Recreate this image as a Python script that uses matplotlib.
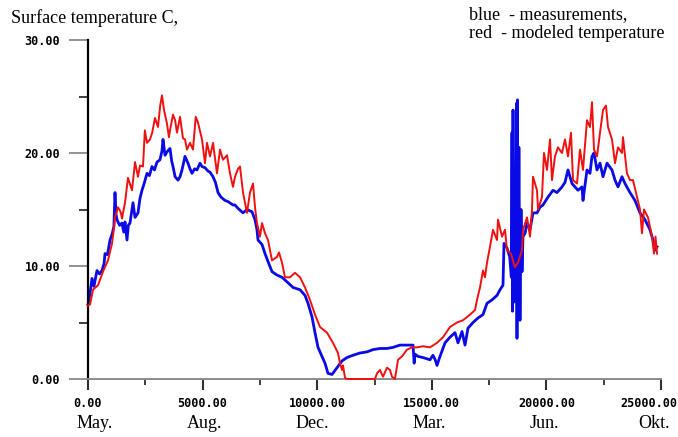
import numpy as np
import matplotlib
matplotlib.use("Agg")
import matplotlib.pyplot as plt
from matplotlib.transforms import blended_transform_factory, ScaledTranslation

blue_hours = [0, 90, 175, 260, 393, 500, 611, 700, 742, 850, 960, 1050, 1130, 1178, 1220,
              1265, 1380, 1483, 1560, 1614, 1702, 1760, 1832, 1963, 2051, 2182, 2269, 2356,
              2450, 2574, 2680, 2792, 2900, 3010, 3141, 3229, 3272, 3360, 3447, 3578, 3650,
              3709, 3800, 3927, 4014, 4101, 4232, 4363, 4450, 4538, 4650, 4756, 4887, 4974,
              5105, 5236, 5323, 5454, 5560, 5672, 5800, 5977, 6108, 6326, 6414, 6545, 6763,
              6937, 7155, 7286, 7373, 7417, 7592, 7723, 7853, 8028, 8246, 8464, 8682, 8944,
              9250, 9468, 9599, 9773, 9904, 10035, 10209, 10340, 10471, 10646, 10864, 11082,
              11300, 11562, 11867, 12173, 12435, 12740, 13045, 13307, 13613, 13918, 14180,
              14230, 14267, 14398, 14616, 14921, 15052, 15150, 15227, 15358, 15576, 15794,
              16012, 16143, 16318, 16449, 16579, 16798, 17016, 17234, 17409, 17627, 17845,
              17976, 18106, 18150, 18281, 18400, 18470, 18499, 18520, 18543, 18580, 18620,
              18660, 18700, 18717, 18740, 18761, 18800, 18848, 18892, 18936, 18979, 19070,
              19154, 19285, 19415, 19590, 19721, 19852, 20070, 20288, 20462, 20680, 20811,
              20942, 21117, 21248, 21379, 21553, 21597, 21771, 21902, 21990, 22077, 22208,
              22339, 22469, 22644, 22862, 22993, 23124, 23298, 23429, 23647, 23865, 24084,
              24302, 24520, 24651, 24738, 24826]
blue_temp = [6.6, 7.6, 8.9, 8.2, 9.6, 9.3, 9.6, 10.2, 11.1, 11.0, 12.3, 12.8, 13.5, 16.5, 14.6,
             14.1, 13.6, 13.8, 13.0, 13.9, 12.3, 13.6, 13.8, 15.6, 14.3, 14.7, 16.0, 16.7,
             17.3, 18.2, 18.0, 18.8, 18.5, 19.2, 19.4, 20.2, 21.2, 19.8, 20.1, 20.4, 19.3,
             18.8, 17.9, 17.6, 17.9, 18.5, 19.7, 19.1, 18.6, 18.2, 18.6, 18.5, 19.1, 18.8,
             18.7, 18.4, 18.3, 17.9, 17.4, 16.5, 16.1, 15.8, 15.7, 15.4, 15.4, 15.1, 14.7,
             15.0, 14.8, 14.1, 13.2, 12.3, 11.9, 11.1, 10.4, 9.5, 9.2, 9.0, 8.6, 8.1,
             7.9, 7.4, 6.7, 5.5, 4.1, 2.8, 2.0, 1.4, 0.5, 0.4, 1.0, 1.6,
             1.9, 2.1, 2.3, 2.4, 2.6, 2.7, 2.7, 2.8, 3.0, 3.0, 3.0,
             1.4, 2.2, 2.0, 1.9, 1.7, 2.1, 1.7, 1.2, 2.0, 3.2, 3.7,
             4.1, 3.2, 4.2, 3.0, 4.5, 5.0, 5.4, 5.7, 6.7, 7.0, 7.4,
             7.9, 8.3, 12.0, 11.6, 10.8, 9.0, 21.8, 6.0, 23.8, 6.8, 18.0,
             7.5, 24.4, 3.6, 24.7, 6.5, 20.5, 5.2, 15.0, 9.5, 12.6, 12.9,
             13.8, 13.2, 14.7, 14.7, 15.2, 15.4, 16.1, 16.7, 16.5, 17.0, 17.4,
             18.5, 17.3, 17.0, 16.7, 17.0, 15.8, 18.5, 18.2, 19.7, 20.0, 18.5,
             19.1, 17.9, 19.1, 18.5, 17.6, 17.0, 17.9, 17.3, 16.5, 15.8, 14.7,
             14.1, 13.2, 12.3, 11.4, 11.7]

# modeled surface temperature (red)
red_hours = [0, 90, 218, 436, 654, 873, 1047, 1100, 1178, 1309, 1420, 1483, 1614, 1745, 1920,
             2051, 2182, 2269, 2400, 2480, 2574, 2705, 2800, 2923, 3054, 3150, 3229, 3316,
             3447, 3530, 3578, 3709, 3800, 3883, 4014, 4145, 4232, 4319, 4450, 4581, 4700,
             4799, 4974, 5017, 5105, 5192, 5323, 5454, 5628, 5759, 5890, 6065, 6195, 6326,
             6414, 6545, 6632, 6763, 6937, 7068, 7199, 7286, 7373, 7504, 7592, 7723, 7853,
             8028, 8246, 8333, 8464, 8595, 8813, 9031, 9250, 9468, 9686, 9904, 10122, 10428,
             10689, 10908, 10995, 11082, 11126, 11213, 11300, 12522, 12609, 12740, 12871,
             13045, 13176, 13264, 13394, 13526, 13700, 13918, 14136, 14354, 14616, 14921,
             15227, 15489, 15794, 16099, 16361, 16667, 16885, 16972, 17103, 17234, 17321,
             17409, 17539, 17670, 17845, 17888, 18063, 18194, 18281, 18450, 18630, 18761,
             18936, 18979, 19154, 19285, 19372, 19415, 19590, 19634, 19808, 19895, 20026,
             20157, 20244, 20375, 20506, 20680, 20811, 20942, 21073, 21161, 21335, 21466,
             21597, 21771, 21902, 21990, 22077, 22208, 22339, 22469, 22600, 22688, 22862,
             22993, 23124, 23298, 23342, 23516, 23647, 23778, 23953, 24084, 24171, 24258,
             24433, 24607, 24695, 24760, 24826]
red_temp = [6.5, 6.6, 7.9, 8.3, 9.5, 10.5, 12.0, 12.8, 14.3, 15.2, 14.8, 14.2, 15.6, 17.8, 16.7,
            19.2, 17.9, 18.9, 18.8, 22.0, 20.9, 21.2, 21.8, 23.1, 22.3, 24.2, 25.1, 23.8,
            22.6, 21.4, 22.0, 23.4, 22.9, 21.8, 23.2, 21.3, 21.2, 20.3, 20.9, 20.3, 23.2,
            22.7, 21.2, 20.5, 19.1, 20.9, 19.7, 20.9, 18.2, 20.3, 19.4, 19.8, 18.2, 17.0,
            17.9, 18.6, 18.8, 16.5, 14.7, 16.5, 17.3, 15.2, 13.8, 12.6, 13.8, 12.9, 12.3,
            10.5, 10.8, 11.2, 10.3, 9.0, 9.0, 9.4, 9.0, 8.1, 7.0, 5.7, 4.6, 4.1,
            3.2, 2.3, 1.4, 0.8, 1.2, 0.1, 0.0, 0.0, 0.5, 0.8, 0.2,
            1.0, 0.8, 0.2, 0.0, 1.7, 2.0, 2.6, 2.8, 2.8, 2.9, 2.8,
            3.2, 3.7, 4.6, 5.0, 5.2, 5.7, 6.1, 7.0, 8.1, 9.6, 9.0,
            10.3, 11.7, 13.2, 12.3, 14.1, 12.6, 13.2, 11.4, 11.1, 9.9, 10.3,
            11.4, 13.2, 14.3, 12.6, 15.0, 17.9, 16.7, 15.0, 16.1, 20.0, 18.5,
            21.2, 17.6, 19.7, 20.5, 20.0, 21.2, 19.7, 21.8, 17.6, 17.3, 20.3,
            18.5, 22.9, 22.3, 24.5, 20.3, 19.7, 21.8, 23.8, 24.2, 22.3, 21.2,
            19.1, 20.5, 20.0, 21.4, 18.2, 17.6, 17.6, 16.1, 15.0, 12.9, 15.0,
            14.3, 12.6, 11.1, 12.6, 11.1]

x_ticks = [0, 5000, 10000, 15000, 20000, 25000]
x_tick_labels = ["0.00", "5000.00", "10000.00", "15000.00", "20000.00", "25000.00"]
y_ticks = [0, 10, 20, 30]
y_tick_labels = ["0.00", "10.00", "20.00", "30.00"]
months = ["May.", "Aug.", "Dec.", "Mar.", "Jun.", "Okt."]
month_pos = [300, 5100, 9800, 14900, 19900, 24700]

SERIF = "Liberation Serif"
TICKFONT = dict(family="DejaVu Sans Mono", weight="bold", size=8.5)

fig = plt.figure(figsize=(6.78, 4.37), dpi=100)
ax = fig.add_axes([88 / 678, 58 / 437, 573 / 678, 339 / 437])

ax.plot(red_hours, red_temp, color="#f01010", lw=1.4, clip_on=False, zorder=3)
ax.plot(blue_hours, blue_temp, color="#0a0ae6", lw=2.0, clip_on=False, zorder=2)

ax.set_xlim(0, 25000)
ax.set_ylim(0, 30)

for s in ("top", "right"):
    ax.spines[s].set_visible(False)
ax.spines["left"].set_color("black")
ax.spines["left"].set_linewidth(1.6)
ax.spines["bottom"].set_color("#8a8a8a")
ax.spines["bottom"].set_linewidth(1.4)

ax.set_xticks(x_ticks)
ax.set_xticklabels(x_tick_labels, **TICKFONT)
ax.set_xticks([2500, 7500, 12500, 17500, 22500], minor=True)
ax.set_yticks(y_ticks)
ax.set_yticklabels(y_tick_labels, **TICKFONT)
ax.set_yticks([5, 15, 25], minor=True)

ax.tick_params(axis="x", which="major", length=8, width=1.5, color="#303030", pad=5)
ax.tick_params(axis="x", which="minor", length=4, width=1.3, color="#303030")
ax.tick_params(axis="y", which="major", length=14, width=1.3, color="#8a8a8a", pad=6)
ax.tick_params(axis="y", which="minor", length=6.5, width=1.3, color="#303030")

# last x label sits against the right edge of the picture
last = ax.get_xticklabels()[-1]
last.set_horizontalalignment("right")
last.set_transform(last.get_transform() + ScaledTranslation(0.16, 0, fig.dpi_scale_trans))

trans = blended_transform_factory(ax.transData, fig.transFigure)
for m, xp in zip(months, month_pos):
    ax.text(xp, 1 - 424 / 437, m, transform=trans, ha="center", va="center",
            family=SERIF, fontsize=13)

fig.text(11 / 678, 1 - 18 / 437, "Surface temperature C,", family=SERIF, fontsize=13,
         ha="left", va="center")
fig.text(469 / 678, 1 - 15 / 437, "blue  - measurements,", family=SERIF, fontsize=13,
         ha="left", va="center")
fig.text(469 / 678, 1 - 33 / 437, "red  - modeled temperature", family=SERIF, fontsize=13,
         ha="left", va="center")

fig.savefig("out.png", dpi=100)
